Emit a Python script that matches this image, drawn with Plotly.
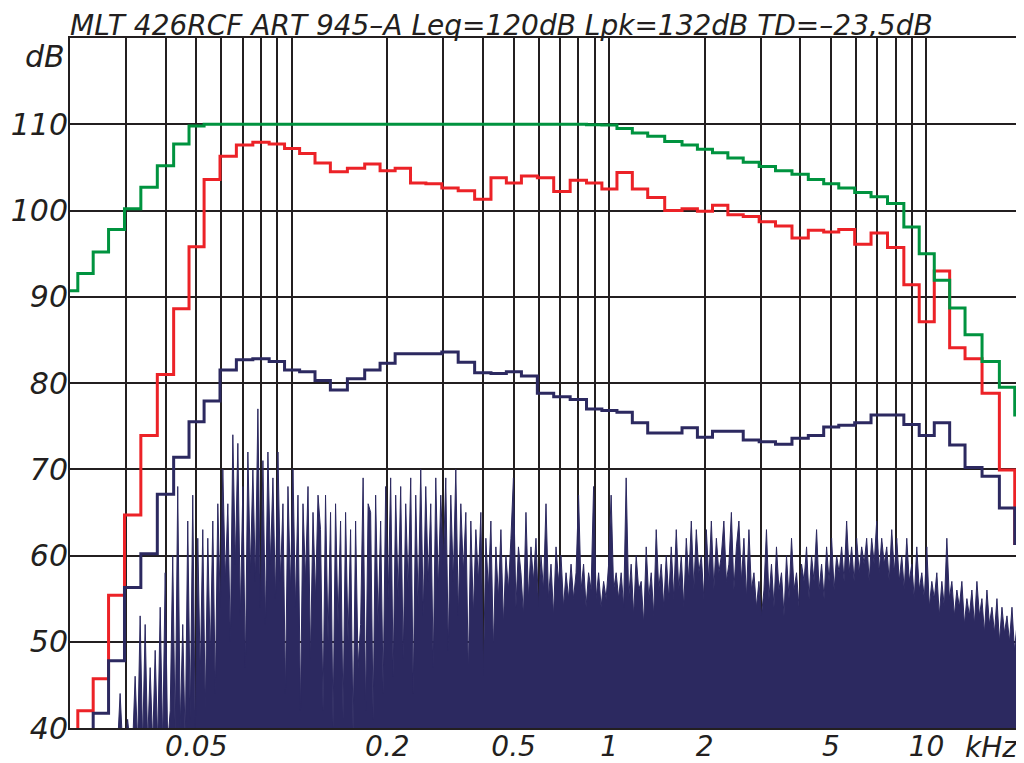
import numpy as np
import plotly.graph_objects as go

# 1/6-octave band centres (kHz)
bands_khz = [0.02, 0.0224, 0.025, 0.028, 0.0315, 0.0355, 0.04, 0.045, 0.05, 0.056,
             0.063, 0.071, 0.08, 0.09, 0.1, 0.112, 0.125, 0.14, 0.16, 0.18,
             0.2, 0.224, 0.25, 0.28, 0.315, 0.355, 0.4, 0.45, 0.5, 0.56,
             0.63, 0.71, 0.8, 0.9, 1.0, 1.12, 1.25, 1.4, 1.6, 1.8,
             2.0, 2.24, 2.5, 2.8, 3.15, 3.55, 4.0, 4.5, 5.0, 5.6,
             6.3, 7.1, 8.0, 9.0, 10.0, 11.2, 12.5, 14.0, 16.0, 18.0, 20.0]

# max level (green)
green_db = [90.7, 92.7, 95.2, 97.8, 100.2, 102.7, 105.2, 107.7, 109.8, 110.0,
            110.0, 110.0, 110.0, 110.0, 110.0, 110.0, 110.0, 110.0, 110.0, 110.0,
            110.0, 110.0, 110.0, 110.0, 110.0, 110.0, 110.0, 110.0, 110.0, 110.0,
            110.0, 110.0, 110.0, 109.95, 109.9, 109.5, 109.0, 108.6, 108.0, 107.6,
            107.1, 106.7, 106.1, 105.6, 105.1, 104.6, 104.2, 103.6, 103.1, 102.6,
            102.1, 101.6, 100.8, 98.1, 95.0, 91.9, 88.7, 85.6, 82.5, 79.5, 76.3]

# peak level (red)
red_db = [39.0, 42.0, 45.7, 55.4, 64.7, 73.9, 81.0, 88.6, 95.8, 103.6,
          106.3, 107.6, 107.9, 107.7, 107.2, 106.6, 105.5, 104.5, 104.9, 105.4,
          104.6, 104.9, 103.2, 103.1, 102.6, 102.3, 101.3, 103.8, 103.2, 104.0,
          103.8, 102.2, 103.5, 103.2, 102.5, 104.4, 102.5, 101.5, 100.0, 100.2,
          99.9, 100.6, 99.5, 99.3, 98.7, 98.2, 96.8, 97.7, 97.5, 97.8,
          96.1, 97.4, 95.7, 91.4, 87.1, 93.0, 84.1, 82.8, 78.8, 69.9, 61.4]

# average level (navy)
navy_db = [39.0, 39.0, 41.7, 47.8, 56.3, 60.2, 67.1, 71.4, 75.5, 77.9,
           81.5, 82.7, 82.8, 82.5, 81.5, 81.3, 80.3, 79.2, 80.5, 81.5,
           82.3, 83.4, 83.4, 83.4, 83.6, 82.4, 81.2, 81.1, 81.3, 80.8,
           78.8, 78.4, 78.1, 77.0, 76.8, 76.6, 75.4, 74.2, 74.2, 74.8,
           73.7, 74.4, 74.4, 73.4, 73.2, 72.9, 73.6, 73.9, 74.9, 75.1,
           75.4, 76.3, 76.3, 75.2, 73.9, 75.4, 72.8, 70.2, 69.2, 65.5, 61.4]

# narrow-band spectrum (dB), log-spaced from 20 Hz to 20 kHz
spec_db = [
    38, 38, 38, 38, 38, 38, 38, 38, 38, 38, 38, 38, 38, 38, 38, 38, 38, 38, 38, 38,
    44, 38, 38, 41, 38, 38, 46, 38, 53, 38, 52, 38, 47, 38, 49, 38, 54, 38, 58, 38,
    42, 60, 39, 68, 40, 52, 38, 64, 41, 67, 39, 62, 46, 63, 42, 62, 48, 64, 44, 66,
    54, 70, 57, 66, 50, 74, 59, 73, 53, 68, 47, 72, 58, 70, 57, 77, 54, 71, 52, 72,
    59, 69, 55, 72, 57, 66, 44, 68, 56, 70, 54, 67, 42, 66, 57, 68, 48, 65, 55, 67,
    63, 42, 67, 50, 65, 40, 66, 52, 64, 41, 65, 50, 63, 39, 64, 47, 52, 69, 42, 66,
    65, 41, 67, 52, 64, 44, 68, 55, 69, 46, 67, 55, 68, 48, 66, 56, 69, 44, 67, 54,
    70, 53, 68, 57, 66, 47, 69, 56, 67, 59, 69, 49, 67, 57, 70, 53, 66, 58, 65, 46,
    64, 53, 63, 57, 65, 46, 62, 56, 64, 49, 61, 55, 63, 52, 60, 56, 62, 69, 54, 61,
    58, 53, 65, 55, 61, 57, 62, 54, 60, 56, 66, 55, 59, 53, 61, 57, 60, 54, 58, 55,
    59, 55, 58, 67, 56, 59, 54, 58, 56, 68, 55, 58, 54, 57, 55, 59, 67, 56, 58, 55,
    58, 54, 69, 55, 59, 53, 60, 56, 57, 52, 61, 55, 58, 53, 63, 56, 59, 54, 60, 55,
    61, 55, 63, 56, 60, 54, 62, 57, 64, 56, 63, 58, 60, 55, 63, 57, 64, 56, 62, 58,
    60, 64, 57, 59, 65, 56, 61, 64, 57, 62, 55, 63, 56, 58, 54, 57, 53, 56, 63, 55,
    59, 54, 61, 56, 58, 53, 60, 55, 62, 56, 58, 54, 59, 57, 61, 55, 60, 57, 63, 56,
    59, 55, 61, 57, 62, 56, 60, 58, 61, 57, 64, 58, 61, 57, 62, 58, 61, 59, 62, 57,
    62, 59, 64, 58, 62, 59, 61, 57, 63, 58, 62, 57, 60, 56, 62, 57, 59, 55, 61, 56,
    58, 55, 61, 54, 57, 55, 58, 53, 57, 54, 62, 55, 57, 53, 56, 54, 57, 52, 55, 53,
    56, 52, 57, 53, 55, 51, 56, 52, 54, 51, 55, 50, 54, 51, 53, 50, 54, 49, 52, 50,
    52,
]
spec_khz = np.geomspace(0.02, 20.0, len(spec_db))

grid_khz = [0.03, 0.04, 0.05, 0.06, 0.07, 0.08, 0.09,
            0.1, 0.2, 0.3, 0.4, 0.5, 0.6, 0.7, 0.8, 0.9,
            1, 2, 3, 4, 5, 6, 7, 8, 9, 10]
labels = {0.05: "0.05", 0.2: "0.2", 0.5: "0.5", 1: "1", 2: "2", 5: "5", 10: "10"}
y_ticks = [40, 50, 60, 70, 80, 90, 100, 110]

title = "MLT 426RCF ART 945\u2013A Leq=120dB Lpk=132dB TD=\u201323,5dB"

ink = "#231f20"
navy = "#2c2960"
W, H = 1016, 755  # the page body adds an 8px margin around the figure
x_font = dict(family="DejaVu Sans", size=28, style="italic", color=ink)
y_font = dict(family="DejaVu Sans", size=30, style="italic", color=ink)

fig = go.Figure()
fig.add_trace(go.Scatter(x=spec_khz, y=spec_db, mode="lines", fill="tozeroy",
                         line=dict(color=navy, width=1), fillcolor=navy))
fig.add_trace(go.Scatter(x=bands_khz, y=red_db, mode="lines", line_shape="hvh",
                         line=dict(color="#ec2227", width=3)))
fig.add_trace(go.Scatter(x=bands_khz, y=green_db, mode="lines", line_shape="hvh",
                         line=dict(color="#00933f", width=3)))
fig.add_trace(go.Scatter(x=bands_khz, y=navy_db, mode="lines", line_shape="hvh",
                         line=dict(color=navy, width=3)))

fig.update_layout(
    width=W, height=H,
    margin=dict(l=62, r=2, t=30, b=35),
    plot_bgcolor="white", paper_bgcolor="white",
    showlegend=False,
    xaxis=dict(type="log", range=[np.log10(0.02), np.log10(20)],
               tickmode="array", tickvals=grid_khz,
               ticktext=[labels.get(v, "") for v in grid_khz],
               showgrid=True, gridcolor=ink, gridwidth=1.5,
               showline=True, linecolor=ink, linewidth=2, mirror=True,
               ticks="", ticklen=0, tickfont=x_font, zeroline=False,
               ticklabelstandoff=-8, automargin=False),
    yaxis=dict(range=[40, 120], tickmode="array", tickvals=y_ticks,
               ticktext=[str(v) for v in y_ticks],
               showgrid=True, gridcolor=ink, gridwidth=1.5,
               showline=True, linecolor=ink, linewidth=2, mirror=True,
               ticks="", ticklen=0, tickfont=y_font, zeroline=False,
               ticklabelstandoff=-6, automargin=False),
)

fig.add_annotation(text=title, x=0, xref="paper", xanchor="left", xshift=-2,
                   y=1, yref="paper", yanchor="middle", yshift=13,
                   showarrow=False,
                   font=dict(family="DejaVu Sans", size=28, style="italic", color=ink))
fig.add_annotation(text="dB", x=0, xref="paper", xanchor="right", xshift=-3,
                   y=117.9, yref="y", yanchor="middle", showarrow=False,
                   font=y_font)
fig.add_annotation(text="kHz", x=1, xref="paper", xanchor="right", xshift=-2,
                   y=0, yref="paper", yanchor="top", yshift=-1, showarrow=False,
                   font=x_font)

fig.write_html("out.html")
